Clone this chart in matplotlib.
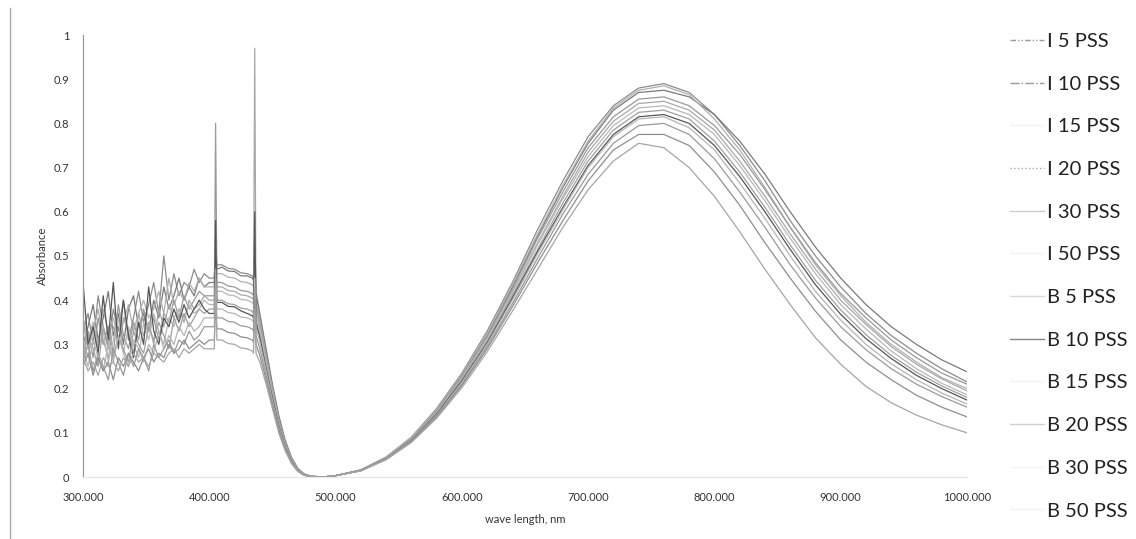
import matplotlib
matplotlib.use("Agg")
import matplotlib.pyplot as plt
from matplotlib.lines import Line2D
from matplotlib.ticker import FixedLocator, FuncFormatter

plt.rcParams['font.family'] = ['Lato', 'DejaVu Sans']

# wavelength grid (nm): noisy UV part, spikes / edge, visible band
wl_uv = [300, 304, 308, 312, 316, 320, 324, 328, 332, 336, 340, 344, 348,
         352, 356, 360, 364, 368, 372, 376, 380, 384, 388, 392, 396, 400]
wl_mid = [404, 405, 406, 410, 415, 420, 425, 430, 434, 435, 436, 437, 440,
          445, 450, 455, 460, 465, 470, 475, 480, 490]
wl_vis = [500, 520, 540, 560, 580, 600, 620, 640, 660, 680, 700, 720, 740,
          760, 780, 800, 820, 840, 860, 880, 900, 920, 940, 960, 980, 1000]

labels = ["I 5 PSS", "I 10 PSS", "I 15 PSS", "I 20 PSS", "I 30 PSS", "I 50 PSS",
          "B 5 PSS", "B 10 PSS", "B 15 PSS", "B 20 PSS", "B 30 PSS", "B 50 PSS"]

uv = {
    "I 5 PSS":  [0.33, 0.37, 0.30, 0.41, 0.34, 0.29, 0.38, 0.33, 0.40, 0.31, 0.36, 0.42, 0.35,
                 0.39, 0.44, 0.37, 0.50, 0.40, 0.46, 0.41, 0.44, 0.43, 0.47, 0.44, 0.46, 0.45],
    "I 10 PSS": [0.30, 0.34, 0.39, 0.31, 0.36, 0.42, 0.32, 0.37, 0.30, 0.38, 0.41, 0.34, 0.37,
                 0.33, 0.40, 0.36, 0.43, 0.38, 0.41, 0.45, 0.40, 0.43, 0.41, 0.45, 0.43, 0.44],
    "I 15 PSS": [0.36, 0.31, 0.35, 0.30, 0.38, 0.33, 0.36, 0.31, 0.35, 0.39, 0.33, 0.37, 0.40,
                 0.36, 0.38, 0.42, 0.37, 0.45, 0.39, 0.42, 0.40, 0.44, 0.42, 0.45, 0.43, 0.43],
    "I 20 PSS": [0.28, 0.33, 0.27, 0.36, 0.30, 0.34, 0.28, 0.39, 0.32, 0.29, 0.35, 0.31, 0.38,
                 0.33, 0.36, 0.31, 0.37, 0.35, 0.40, 0.36, 0.41, 0.38, 0.40, 0.42, 0.41, 0.41],
    "I 30 PSS": [0.35, 0.29, 0.33, 0.38, 0.31, 0.27, 0.34, 0.30, 0.36, 0.33, 0.28, 0.37, 0.32,
                 0.35, 0.30, 0.38, 0.34, 0.39, 0.36, 0.38, 0.35, 0.40, 0.38, 0.39, 0.41, 0.40],
    "I 50 PSS": [0.31, 0.27, 0.35, 0.29, 0.33, 0.26, 0.31, 0.36, 0.28, 0.34, 0.30, 0.27, 0.35,
                 0.31, 0.37, 0.33, 0.30, 0.36, 0.34, 0.38, 0.36, 0.39, 0.37, 0.38, 0.40, 0.39],
    "B 5 PSS":  [0.27, 0.32, 0.29, 0.25, 0.34, 0.30, 0.27, 0.32, 0.29, 0.26, 0.33, 0.30, 0.28,
                 0.34, 0.31, 0.35, 0.32, 0.29, 0.36, 0.33, 0.37, 0.34, 0.36, 0.38, 0.37, 0.38],
    "B 10 PSS": [0.44, 0.30, 0.34, 0.28, 0.41, 0.31, 0.44, 0.29, 0.40, 0.32, 0.27, 0.35, 0.30,
                 0.43, 0.33, 0.30, 0.36, 0.34, 0.38, 0.35, 0.39, 0.36, 0.38, 0.40, 0.38, 0.37],
    "B 15 PSS": [0.29, 0.25, 0.31, 0.27, 0.24, 0.30, 0.26, 0.32, 0.28, 0.25, 0.31, 0.29, 0.26,
                 0.30, 0.28, 0.33, 0.29, 0.32, 0.30, 0.34, 0.32, 0.35, 0.33, 0.34, 0.36, 0.36],
    "B 20 PSS": [0.26, 0.30, 0.24, 0.28, 0.25, 0.22, 0.29, 0.26, 0.23, 0.28, 0.25, 0.29, 0.27,
                 0.24, 0.30, 0.27, 0.29, 0.31, 0.28, 0.31, 0.30, 0.33, 0.31, 0.32, 0.34, 0.34],
    "B 30 PSS": [0.25, 0.28, 0.23, 0.27, 0.24, 0.26, 0.22, 0.27, 0.25, 0.28, 0.26, 0.24, 0.27,
                 0.29, 0.26, 0.28, 0.27, 0.30, 0.28, 0.29, 0.31, 0.29, 0.30, 0.31, 0.30, 0.31],
    "B 50 PSS": [0.27, 0.24, 0.26, 0.23, 0.27, 0.25, 0.26, 0.24, 0.27, 0.25, 0.28, 0.26, 0.27,
                 0.25, 0.28, 0.27, 0.26, 0.28, 0.29, 0.27, 0.29, 0.28, 0.29, 0.30, 0.29, 0.29],
}

mid = {
    "I 5 PSS":  [0.45, 0.52, 0.48, 0.48, 0.472, 0.47, 0.462, 0.46, 0.455, 0.45, 0.55, 0.42, 0.37,
                 0.29, 0.21, 0.14, 0.085, 0.045, 0.02, 0.007, 0.002, 0.0],
    "I 10 PSS": [0.44, 0.55, 0.47, 0.475, 0.466, 0.465, 0.455, 0.455, 0.45, 0.445, 0.52, 0.41, 0.365,
                 0.285, 0.205, 0.135, 0.08, 0.043, 0.019, 0.007, 0.002, 0.0],
    "I 15 PSS": [0.43, 0.50, 0.46, 0.46, 0.452, 0.45, 0.442, 0.44, 0.435, 0.43, 0.50, 0.40, 0.355,
                 0.275, 0.20, 0.13, 0.078, 0.041, 0.018, 0.006, 0.002, 0.0],
    "I 20 PSS": [0.41, 0.80, 0.44, 0.44, 0.432, 0.43, 0.422, 0.42, 0.415, 0.41, 0.50, 0.39, 0.345,
                 0.27, 0.195, 0.128, 0.076, 0.04, 0.017, 0.006, 0.002, 0.0],
    "I 30 PSS": [0.40, 0.50, 0.43, 0.43, 0.422, 0.42, 0.412, 0.41, 0.405, 0.40, 0.97, 0.38, 0.34,
                 0.265, 0.19, 0.125, 0.074, 0.039, 0.017, 0.006, 0.002, 0.0],
    "I 50 PSS": [0.39, 0.48, 0.42, 0.42, 0.412, 0.41, 0.402, 0.40, 0.395, 0.39, 0.48, 0.37, 0.33,
                 0.26, 0.187, 0.122, 0.072, 0.038, 0.016, 0.005, 0.001, 0.0],
    "B 5 PSS":  [0.38, 0.47, 0.40, 0.40, 0.392, 0.39, 0.382, 0.38, 0.375, 0.37, 0.47, 0.355, 0.32,
                 0.25, 0.18, 0.118, 0.07, 0.037, 0.016, 0.005, 0.001, 0.0],
    "B 10 PSS": [0.37, 0.58, 0.395, 0.395, 0.386, 0.385, 0.376, 0.37, 0.365, 0.36, 0.60, 0.35, 0.315,
                 0.245, 0.178, 0.116, 0.069, 0.036, 0.015, 0.005, 0.001, 0.0],
    "B 15 PSS": [0.36, 0.45, 0.38, 0.38, 0.372, 0.37, 0.362, 0.36, 0.355, 0.35, 0.45, 0.34, 0.305,
                 0.24, 0.173, 0.113, 0.067, 0.035, 0.015, 0.005, 0.001, 0.0],
    "B 20 PSS": [0.34, 0.43, 0.36, 0.36, 0.352, 0.35, 0.342, 0.34, 0.335, 0.33, 0.43, 0.32, 0.29,
                 0.23, 0.167, 0.11, 0.065, 0.034, 0.014, 0.004, 0.001, 0.0],
    "B 30 PSS": [0.31, 0.40, 0.335, 0.335, 0.327, 0.325, 0.317, 0.315, 0.31, 0.305, 0.40, 0.30, 0.275,
                 0.22, 0.16, 0.105, 0.062, 0.032, 0.013, 0.004, 0.001, 0.0],
    "B 50 PSS": [0.29, 0.47, 0.31, 0.31, 0.302, 0.30, 0.292, 0.29, 0.285, 0.28, 0.38, 0.28, 0.26,
                 0.21, 0.155, 0.10, 0.06, 0.031, 0.013, 0.004, 0.001, 0.0],
}

vis = {
    "I 5 PSS":  [0.003, 0.016, 0.045, 0.09, 0.155, 0.235, 0.33, 0.44, 0.56, 0.67, 0.77, 0.84, 0.88,
                 0.89, 0.87, 0.82, 0.75, 0.67, 0.58, 0.50, 0.43, 0.37, 0.32, 0.28, 0.245, 0.215],
    "I 10 PSS": [0.003, 0.016, 0.044, 0.088, 0.15, 0.23, 0.32, 0.43, 0.545, 0.655, 0.755, 0.83, 0.87,
                 0.875, 0.86, 0.82, 0.76, 0.685, 0.60, 0.52, 0.45, 0.39, 0.34, 0.30, 0.265, 0.238],
    "I 15 PSS": [0.003, 0.016, 0.045, 0.09, 0.153, 0.232, 0.325, 0.435, 0.55, 0.66, 0.76, 0.835, 0.875,
                 0.885, 0.865, 0.81, 0.74, 0.655, 0.565, 0.48, 0.41, 0.35, 0.30, 0.26, 0.225, 0.20],
    "I 20 PSS": [0.003, 0.015, 0.043, 0.087, 0.15, 0.228, 0.318, 0.425, 0.54, 0.645, 0.745, 0.815, 0.855,
                 0.86, 0.84, 0.795, 0.73, 0.65, 0.565, 0.485, 0.415, 0.36, 0.31, 0.27, 0.235, 0.21],
    "I 30 PSS": [0.003, 0.015, 0.043, 0.086, 0.148, 0.225, 0.315, 0.42, 0.53, 0.635, 0.735, 0.805, 0.845,
                 0.85, 0.83, 0.785, 0.715, 0.635, 0.55, 0.47, 0.40, 0.345, 0.295, 0.255, 0.222, 0.195],
    "I 50 PSS": [0.003, 0.015, 0.042, 0.085, 0.146, 0.222, 0.31, 0.415, 0.525, 0.63, 0.725, 0.795, 0.835,
                 0.84, 0.82, 0.775, 0.705, 0.625, 0.54, 0.46, 0.39, 0.335, 0.285, 0.245, 0.212, 0.186],
    "B 5 PSS":  [0.003, 0.015, 0.042, 0.084, 0.144, 0.22, 0.307, 0.41, 0.515, 0.62, 0.715, 0.785, 0.825,
                 0.83, 0.81, 0.76, 0.69, 0.61, 0.525, 0.445, 0.378, 0.322, 0.275, 0.237, 0.206, 0.18],
    "B 10 PSS": [0.003, 0.015, 0.041, 0.083, 0.142, 0.217, 0.303, 0.405, 0.51, 0.61, 0.705, 0.775, 0.815,
                 0.82, 0.80, 0.75, 0.68, 0.60, 0.515, 0.435, 0.368, 0.313, 0.268, 0.23, 0.2, 0.174],
    "B 15 PSS": [0.003, 0.015, 0.041, 0.082, 0.14, 0.214, 0.30, 0.40, 0.505, 0.605, 0.70, 0.77, 0.81,
                 0.815, 0.79, 0.74, 0.665, 0.585, 0.50, 0.42, 0.355, 0.30, 0.256, 0.22, 0.19, 0.165],
    "B 20 PSS": [0.003, 0.014, 0.04, 0.081, 0.138, 0.21, 0.295, 0.392, 0.495, 0.595, 0.685, 0.755, 0.795,
                 0.80, 0.775, 0.72, 0.645, 0.565, 0.48, 0.405, 0.34, 0.288, 0.245, 0.21, 0.182, 0.158],
    "B 30 PSS": [0.003, 0.014, 0.04, 0.08, 0.136, 0.207, 0.29, 0.385, 0.485, 0.58, 0.67, 0.74, 0.775,
                 0.775, 0.75, 0.69, 0.615, 0.53, 0.45, 0.375, 0.31, 0.26, 0.22, 0.185, 0.158, 0.136],
    "B 50 PSS": [0.003, 0.014, 0.039, 0.078, 0.133, 0.202, 0.283, 0.375, 0.47, 0.565, 0.65, 0.715, 0.755,
                 0.745, 0.70, 0.635, 0.555, 0.47, 0.39, 0.315, 0.255, 0.205, 0.168, 0.14, 0.118, 0.10],
}

# colours of the curves in the plot (scanned greys) and of the legend keys
line_colors = ["#8c8c8c", "#7a7a7a", "#b0b0b0", "#999999", "#a8a8a8", "#b8b8b8",
               "#a0a0a0", "#555555", "#b5b5b5", "#9a9a9a", "#8e8e8e", "#a5a5a5"]
key_colors = ["#9a9a9a", "#9a9a9a", "#f4f4f4", "#aaaaaa", "#cccccc", "#f4f4f4",
              "#d8d8d8", "#888888", "#f4f4f4", "#cfcfcf", "#f4f4f4", "#f4f4f4"]
key_styles = [(0, (4, 1.5, 1, 1.5, 1, 1.5)), "-.", "-", ":", "-", "-",
              "-", "-", "-", "-", "-", "-"]

wl = wl_uv + wl_mid + wl_vis

fig = plt.figure(figsize=(11.36, 5.39), dpi=100)
ax = fig.add_axes([83 / 1136, 1 - 477 / 539, (967 - 83) / 1136, (477 - 35) / 539])

for name, c in zip(labels, line_colors):
    ax.plot(wl, uv[name] + mid[name] + vis[name], color=c, lw=0.9)

ax.set_xlim(300, 1000)
ax.set_ylim(0, 1)
ax.xaxis.set_major_locator(FixedLocator([300, 400, 500, 600, 700, 800, 900, 1000]))
ax.xaxis.set_major_formatter(FuncFormatter(lambda v, p: f"{v:.3f}"))
ax.yaxis.set_major_locator(FixedLocator([i / 10 for i in range(11)]))
ax.yaxis.set_major_formatter(FuncFormatter(lambda v, p: f"{v:g}"))
ax.tick_params(length=0, labelsize=8, labelcolor="#333333")
ax.tick_params(axis="y", pad=10)
ax.tick_params(axis="x", pad=11)

for s in ["top", "right"]:
    ax.spines[s].set_visible(False)
ax.spines["left"].set_color("#9a9a9a")
ax.spines["left"].set_linewidth(0.9)
ax.spines["bottom"].set_color("#e6e6e6")
ax.spines["bottom"].set_linewidth(0.8)

ax.set_ylabel("Absorbance", fontsize=8, color="#333333", labelpad=4)
ax.set_xlabel("wave length, nm", fontsize=8, color="#333333", labelpad=8)

handles = [Line2D([], [], color=c, ls=s, lw=1.0) for c, s in zip(key_colors, key_styles)]
fig.legend(handles, labels, loc="upper left", bbox_to_anchor=(1010 / 1136, 1 - 33 / 539),
           frameon=False, fontsize=14.5, handlelength=1.7, handletextpad=0.12,
           labelspacing=1.27, borderpad=0, borderaxespad=0, labelcolor="#222222")

# scanned frame edge on the left
fig.add_artist(Line2D([10 / 1136, 10 / 1136], [0, 1 - 8 / 539], transform=fig.transFigure,
                      color="#aaaaaa", lw=1.0))

fig.savefig("out.png", dpi=100)
